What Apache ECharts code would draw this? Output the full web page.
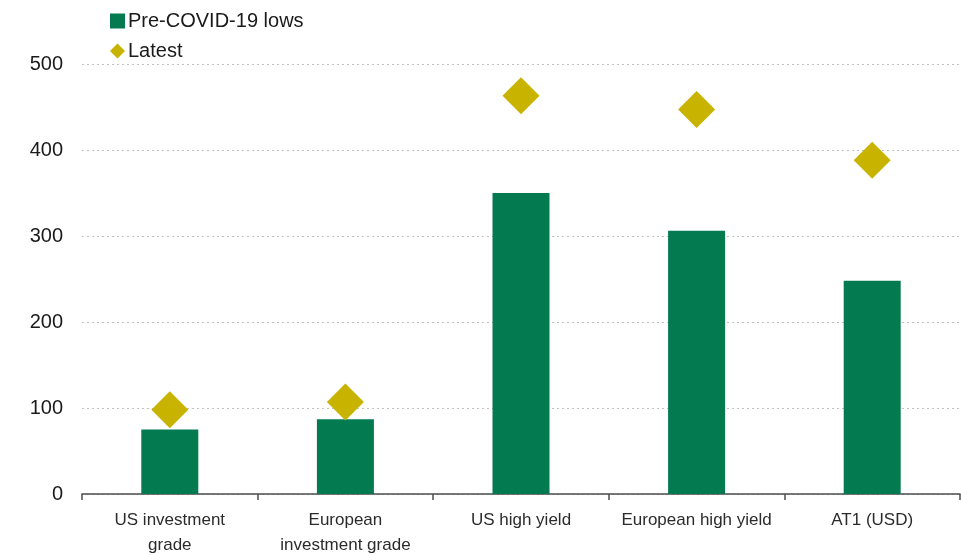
<!DOCTYPE html>
<html><head><meta charset="utf-8">
<script src="https://cdn.jsdelivr.net/npm/echarts@6/dist/echarts.min.js"></script>
<style>html,body{margin:0;padding:0;background:#fff}#c{width:961px;height:555px}</style>
</head><body><div id="c"></div>
<script>
const categories = ['US investment\ngrade', 'European\ninvestment grade', 'US high yield', 'European high yield', 'AT1 (USD)'];
const preCovidLows = [75, 87, 350, 306, 248];
const latest = [98, 107, 463, 447, 388];
const yTicks = [0, 100, 200, 300, 400, 500];

const chart = echarts.init(document.getElementById('c'), null, {renderer: 'canvas'});
chart.setOption({
  animation: false,
  backgroundColor: '#fff',
  textStyle: {fontFamily: 'Liberation Sans, Arial, sans-serif'},
  legend: {
    orient: 'vertical', left: 105, top: 6, itemGap: 10, itemWidth: 15, itemHeight: 15,
    textStyle: {fontSize: 20, color: '#1a1a1a', padding: [0, 0, 0, -2]},
    data: [
      {name: 'Pre-COVID-19 lows', icon: 'rect'},
      {name: 'Latest', icon: 'diamond'}
    ]
  },
  grid: {left: 82, right: 1, top: 64, bottom: 61, containLabel: false, outerBoundsMode: 'none'},
  xAxis: {
    type: 'category', data: categories,
    axisLine: {lineStyle: {color: '#4d4d4d', width: 1.5}},
    axisTick: {show: true, length: 6, lineStyle: {color: '#4d4d4d', width: 1.5}},
    axisLabel: {fontSize: 17, color: '#2b2b2b', margin: 14, lineHeight: 25, interval: 0}
  },
  yAxis: {
    type: 'value', min: yTicks[0], max: yTicks[yTicks.length - 1], interval: 100,
    axisLine: {show: false}, axisTick: {show: false},
    axisLabel: {fontSize: 20, color: '#1a1a1a', margin: 19},
    splitLine: {lineStyle: {color: '#bfbfbf', type: [2, 3], width: 1}}
  },
  series: [
    {
      name: 'Pre-COVID-19 lows', type: 'bar', data: preCovidLows, barWidth: 57,
      itemStyle: {color: '#037a50'}
    },
    {
      name: 'Latest', type: 'scatter', data: latest, symbol: 'diamond', symbolSize: [37, 37],
      itemStyle: {color: '#c8b400', opacity: 1}
    }
  ]
});
</script></body></html>
